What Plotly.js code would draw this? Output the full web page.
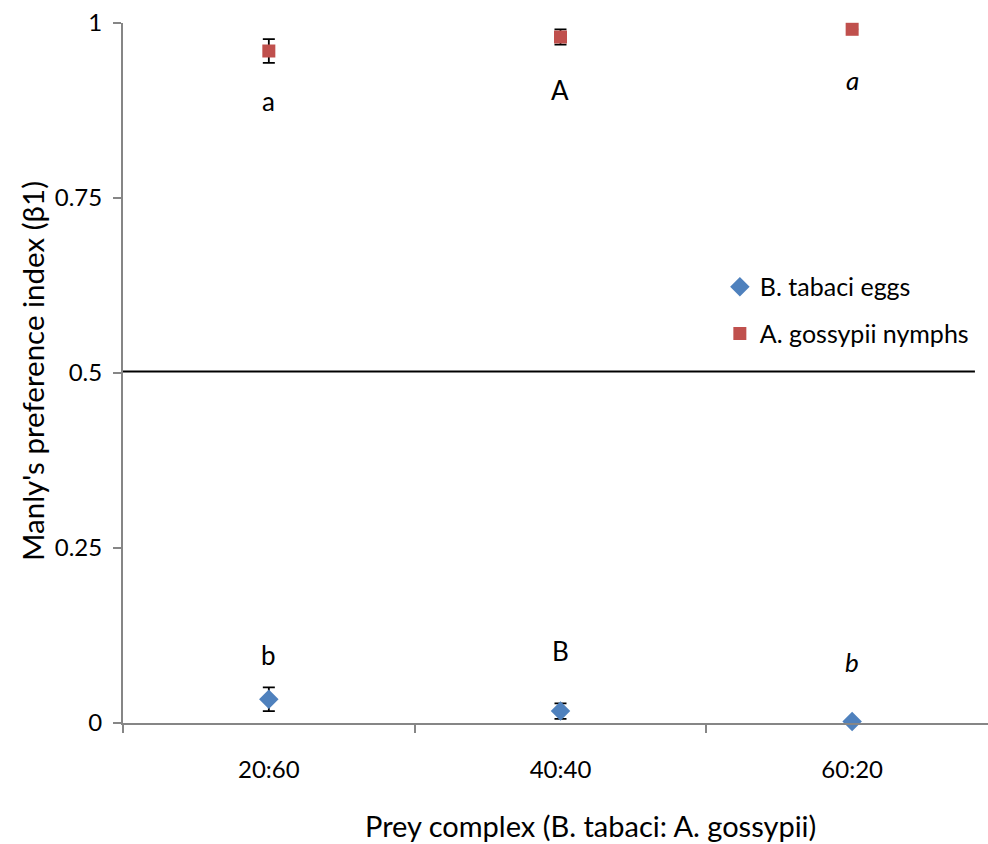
<!DOCTYPE html>
<html>
<head>
<meta charset="utf-8">
<script src="https://cdn.plot.ly/plotly-3.0.1.min.js"></script>
<style>html,body{margin:0;padding:0;background:#fff;}#chart{width:988px;height:844px;}</style>
</head>
<body>
<div id="chart"></div>
<script>
// Data
const categories = ["20:60", "40:40", "60:20"];
const seriesNames = ["B. tabaci eggs", "A. gossypii nymphs"];
const tabaciValues = [0.034, 0.017, 0.002];
const tabaciErrors = [0.017, 0.011, 0];
const gossypiiValues = [0.96, 0.98, 0.991];
const gossypiiErrors = [0.017, 0.011, 0];
const upperLetters = ["a", "A", "<i>a</i>"];
const upperLetterY = [0.889, 0.904, 0.918];
const lowerLetters = ["b", "B", "<i>b</i>"];
const lowerLetterY = [0.097, 0.103, 0.087];
const referenceLevel = 0.502;
const yTicks = [0, 0.25, 0.5, 0.75, 1];
const yTickLabels = ["0", "0.25", "0.5", "0.75", "1"];
const xTitle = "Prey complex (B. tabaci: A. gossypii)";
const yTitle = "Manly's preference index (β1)";

const FONT = "Lato, 'Open Sans', sans-serif";
const AXIS_COLOR = "#868686";

const traces = [
  {
    type: "scatter", mode: "markers", name: seriesNames[0],
    x: categories, y: tabaciValues,
    error_y: {type: "data", array: tabaciErrors, visible: true, color: "#000", thickness: 1.8, width: 6},
    marker: {symbol: "diamond", size: 15, color: "#4F81BD"},
    cliponaxis: false, legend: "legend"
  },
  {
    type: "scatter", mode: "markers", name: seriesNames[1],
    x: categories, y: gossypiiValues,
    error_y: {type: "data", array: gossypiiErrors, visible: true, color: "#000", thickness: 1.8, width: 6},
    marker: {symbol: "square", size: 13, color: "#C0504D"},
    cliponaxis: false, legend: "legend2"
  }
];

const annotations = [];
categories.forEach((c, i) => {
  annotations.push({x: c, y: upperLetterY[i], xref: "x", yref: "y", text: upperLetters[i], showarrow: false,
    font: {family: FONT, size: 26, color: "#000"}, xanchor: "center", yanchor: "middle"});
  annotations.push({x: c, y: lowerLetterY[i], xref: "x", yref: "y", text: lowerLetters[i], showarrow: false,
    font: {family: FONT, size: 26, color: "#000"}, xanchor: "center", yanchor: "middle"});
});
annotations.push({x: 0.54, y: -0.147, xref: "paper", yref: "paper", text: xTitle, showarrow: false,
  font: {family: FONT, size: 29, color: "#000"}, xanchor: "center", yanchor: "middle"});
annotations.push({x: -0.104, y: 0.503, xref: "paper", yref: "paper", text: yTitle, showarrow: false, textangle: -90,
  font: {family: FONT, size: 29.5, color: "#000"}, xanchor: "center", yanchor: "middle"});

const layout = {
  width: 988, height: 844,
  margin: {l: 123, r: 0, t: 23, b: 121},
  paper_bgcolor: "#fff", plot_bgcolor: "#fff",
  font: {family: FONT, size: 24, color: "#000"},
  showlegend: true,
  xaxis: {
    type: "category", range: [-0.5, 2.4658],
    showline: true, linecolor: AXIS_COLOR, linewidth: 2,
    ticks: "outside", tickson: "boundaries", ticklen: 8, tickcolor: AXIS_COLOR, tickwidth: 2,
    showgrid: false, zeroline: false, ticklabelstandoff: 24,
    tickfont: {family: FONT, size: 24, color: "#000"}
  },
  yaxis: {
    range: [0, 1], tickvals: yTicks, ticktext: yTickLabels,
    showline: true, linecolor: AXIS_COLOR, linewidth: 2,
    ticks: "outside", ticklen: 8, tickcolor: AXIS_COLOR, tickwidth: 2,
    showgrid: false, zeroline: false, ticklabelstandoff: 6,
    tickfont: {family: FONT, size: 24, color: "#000"}
  },
  shapes: [
    {type: "line", xref: "x", yref: "y", x0: -0.5, x1: 2.421, y0: referenceLevel, y1: referenceLevel,
     line: {color: "#000", width: 2}, layer: "below"}
  ],
  legend: {x: 0.69, y: 0.623, xanchor: "left", yanchor: "middle", bgcolor: "rgba(0,0,0,0)",
    font: {family: FONT, size: 25, color: "#000"}},
  legend2: {x: 0.69, y: 0.556, xanchor: "left", yanchor: "middle", bgcolor: "rgba(0,0,0,0)",
    font: {family: FONT, size: 25, color: "#000"}},
  annotations: annotations
};

Plotly.newPlot("chart", traces, layout, {displayModeBar: false, staticPlot: true});
</script>
</body>
</html>
